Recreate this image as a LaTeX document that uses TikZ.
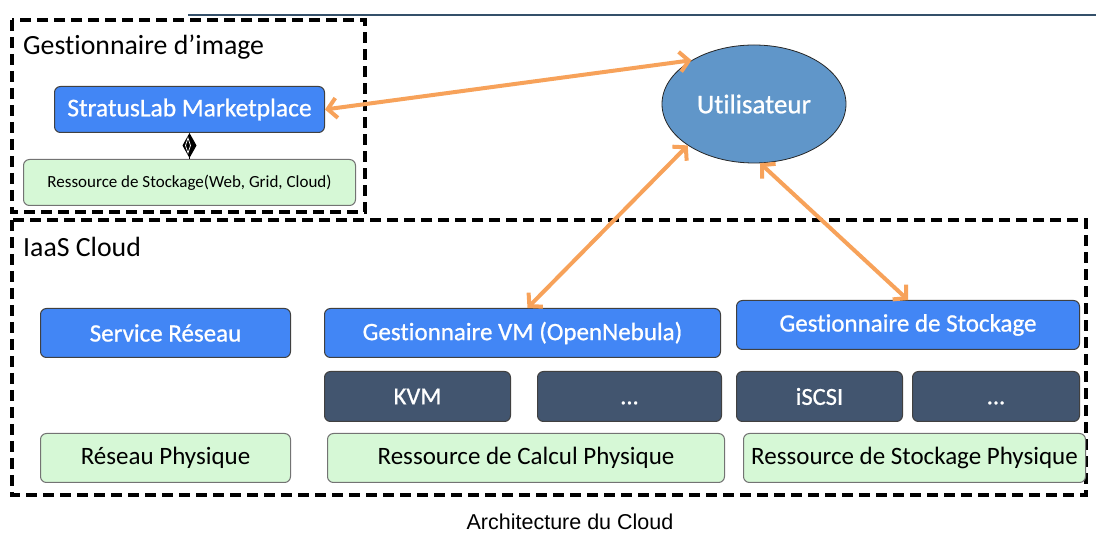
\documentclass[tikz,border=0pt]{standalone}
\usepackage{fontspec}
\setmainfont[Ligatures={NoCommon}]{Carlito}
\newfontfamily\medfont[Ligatures={NoCommon},FakeBold=0.8]{Carlito}
\newfontfamily\capfont{Liberation Sans}
\usetikzlibrary{arrows.meta,shapes.geometric}
\definecolor{bluebox}{HTML}{4286F5}
\definecolor{darkbox}{HTML}{42556F}
\definecolor{greenbox}{HTML}{D6F8D6}
\definecolor{ellblue}{HTML}{6096C9}
\definecolor{arrowor}{HTML}{F7A25A}
\definecolor{topline}{HTML}{34506A}
\begin{document}
\begin{tikzpicture}[x=1pt,y=-1pt,
  box/.style={rectangle, rounded corners=6pt, draw=black!75, line width=1pt, inner sep=0pt, anchor=north west},
  bluebox/.style={box, fill=bluebox, text=white, font=\medfont\fontsize{25}{28}\selectfont},
  darkbox/.style={box, fill=darkbox, text=white, font=\medfont\fontsize{24.5}{28}\selectfont},
  greenbox/.style={box, fill=greenbox, draw=black!55, text=black, font=\fontsize{25}{28}\selectfont},
  frame/.style={line width=4pt, dash pattern=on 11pt off 6pt},
  title/.style={anchor=base west, inner sep=0pt, font=\fontsize{27.8}{30}\selectfont},
  link/.style={arrowor, line width=4pt, {Straight Barb[length=9pt,width=20pt]}-{Straight Barb[length=9pt,width=20pt]}},
]
\useasboundingbox (0,0) rectangle (1096,534);
\fill[white] (0,0) rectangle (1096,534);

% top line
\draw[topline, line width=2pt] (188,15) -- (1096,15);

% frames
\draw[frame] (12,20) rectangle (365,212);
\draw[frame] (12,220) rectangle (1086,495);

\node[title] (t1) at (23,55) {Gestionnaire d’image};
\node[title] (t2) at (23,257) {IaaS Cloud};

% image manager
\node[bluebox, minimum width=270pt, minimum height=46pt, font=\medfont\fontsize{25.5}{28}\selectfont] (mp) at (54,86) {StratusLab Marketplace};
\node[greenbox, minimum width=332pt, minimum height=46pt, font=\fontsize{17}{20}\selectfont] (rs) at (23,159) {Ressource de Stockage(Web, Grid, Cloud)};
\draw[line width=1pt, {Diamond[length=25pt,width=14pt]}-] (mp.south) -- (rs.north);
\draw[white, line width=0.7pt] (188,138) -- (190.5,145.5) -- (188,153) -- (185.5,145.5) -- cycle;

% user
\node[ellipse, draw=black!85, line width=0.8pt, fill=ellblue, text=white, minimum width=184pt, minimum height=118pt, inner sep=0pt, font=\medfont\fontsize{27}{30}\selectfont] (u) at (754,104) {Utilisateur};

% IaaS boxes
\node[bluebox, minimum width=250pt, minimum height=49pt] (sr) at (40,308) {Service Réseau};
\node[bluebox, minimum width=396pt, minimum height=49pt] (vm) at (324,308) {Gestionnaire VM (OpenNebula)};
\node[bluebox, minimum width=343pt, minimum height=49pt] (stk) at (736,300) {Gestionnaire de Stockage};

\node[darkbox, minimum width=186pt, minimum height=50pt] (kvm) at (324,371) {KVM};
\node[darkbox, minimum width=184pt, minimum height=50pt] (d1) at (537,371) {\vphantom{K}...};
\node[darkbox, minimum width=166pt, minimum height=50pt] (iscsi) at (736,371) {iSCSI};
\node[darkbox, minimum width=167pt, minimum height=50pt] (d2) at (912,371) {\vphantom{K}...};

\node[greenbox, minimum width=250pt, minimum height=49pt] (rp) at (40,433) {Réseau Physique};
\node[greenbox, minimum width=397pt, minimum height=49pt] (rc) at (327,433) {Ressource de Calcul Physique};
\node[greenbox, minimum width=342pt, minimum height=49pt] (rsp) at (743,433) {Ressource de Stockage Physique};

% arrows
\draw[link] (mp.east) -- (u.145);
\draw[link] ([xshift=5pt]vm.north) -- (u.212);
\draw[link] (stk.north) -- (u.276);

% caption
\node[font=\capfont\fontsize{21.5}{24}\selectfont, inner sep=0pt] (cap) at (570,522) {Architecture du Cloud};
\end{tikzpicture}
\end{document}
